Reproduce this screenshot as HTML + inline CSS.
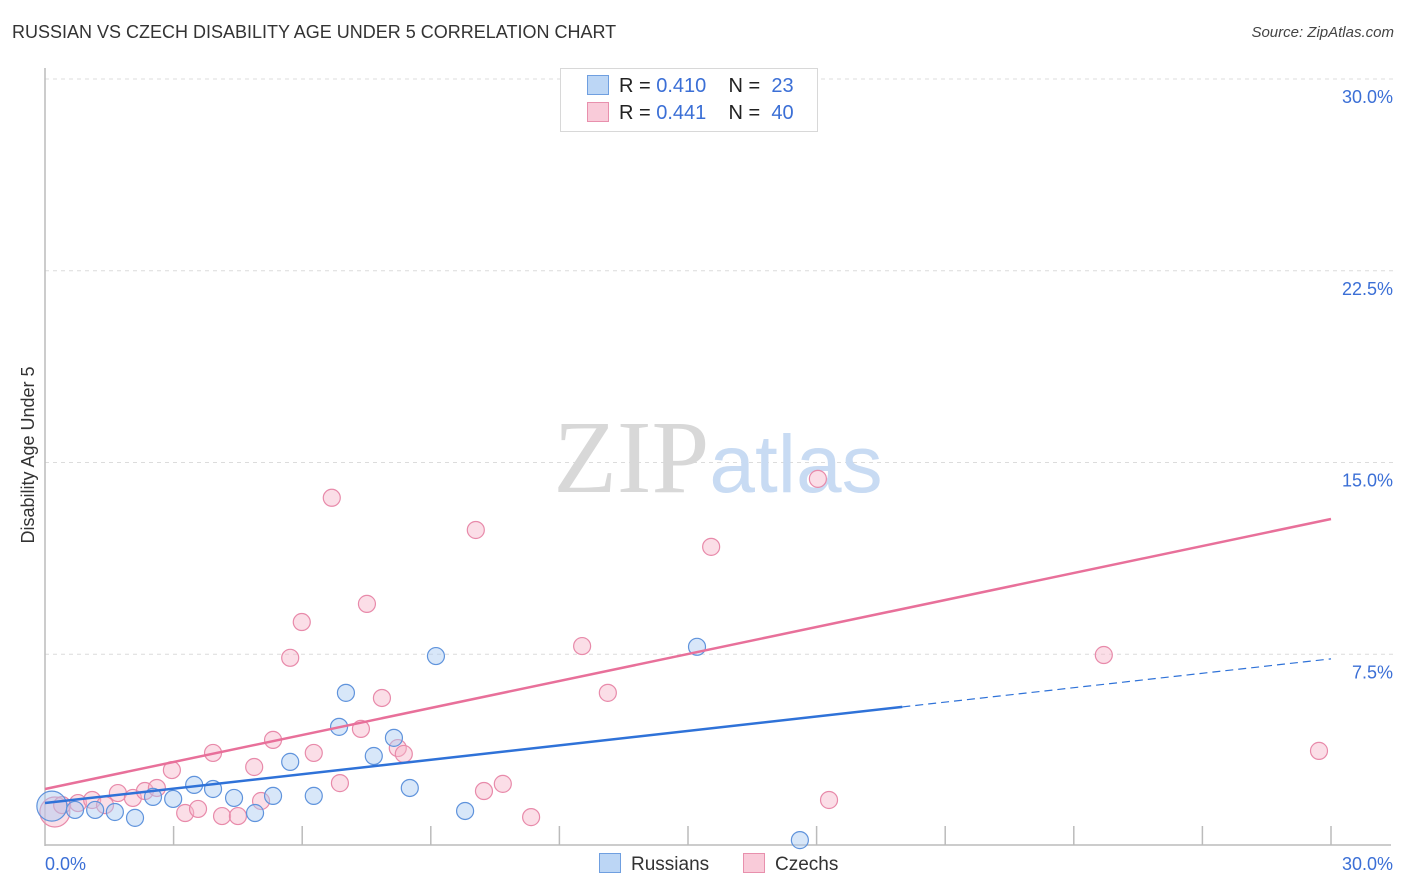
<!DOCTYPE html>
<html><head><meta charset="utf-8">
<style>
body{margin:0;background:#fff;font-family:"Liberation Sans",sans-serif;}
#wrap{position:relative;width:1406px;height:892px;overflow:hidden;}
.t{position:absolute;white-space:nowrap;}
</style></head>
<body>
<div id="wrap">
<div class="t" style="left:12px;top:22px;font-size:18px;color:#333;">RUSSIAN VS CZECH DISABILITY AGE UNDER 5 CORRELATION CHART</div>
<div class="t" style="right:12px;top:24px;font-size:15px;color:#444;font-style:italic;">Source: ZipAtlas.com</div>
<svg id="svg" width="1406" height="892" style="position:absolute;left:0;top:0"></svg>
</div>
<script>
const ruX=[0.16,0.70,1.17,1.63,2.10,2.52,2.99,3.48,3.92,4.41,4.90,5.32,5.72,6.27,6.86,7.02,7.67,8.14,8.51,9.12,9.80,15.21,17.61];
const ruY=[1.56,1.41,1.41,1.33,1.10,1.92,1.84,2.39,2.23,1.88,1.29,1.96,3.29,1.96,4.66,5.99,3.52,4.23,2.27,7.43,1.37,7.79,0.23];
const czX=[0.23,0.40,0.77,1.10,1.40,1.70,2.05,2.33,2.61,2.96,3.27,3.57,3.92,4.13,4.50,4.88,5.04,5.32,5.72,5.99,6.27,6.69,6.88,7.37,7.51,7.86,8.23,8.37,10.05,10.24,10.68,11.34,12.53,13.13,15.54,18.03,18.29,24.70,29.72,16.87];
const czY=[1.33,1.60,1.68,1.80,1.60,2.07,1.88,2.15,2.27,2.97,1.29,1.45,3.64,1.17,1.17,3.09,1.76,4.15,7.36,8.76,3.64,13.62,2.46,4.58,9.47,5.79,3.83,3.60,12.36,2.15,2.43,1.13,7.82,5.99,11.70,14.36,1.80,7.47,3.72,28.56];
const yTicks=[7.5,15,22.5,30];
const yTickLabels=["7.5%","15.0%","22.5%","30.0%"];
const ruTrend=[1.68,0.188]; // intercept, slope
const czTrend=[2.23,0.352];
const ruSolidMax=20;

const NS="http://www.w3.org/2000/svg";
const svg=document.getElementById('svg');
const X0=45,X1=1331,Y0=846,Y30=79;
const sx=v=>X0+(X1-X0)*v/30;
const sy=v=>Y0-(Y0-Y30)*v/30;
function mk(tag,attrs){const e=document.createElementNS(NS,tag);for(const k in attrs)e.setAttribute(k,attrs[k]);svg.appendChild(e);return e;}

yTicks.forEach((t,i)=>{
  const g=mk('line',{x1:X0,x2:1395,y1:sy(t),y2:sy(t),stroke:'#dcdcdc','stroke-dasharray':'4,4'});
  
  
  const tx=mk('text',{x:1393,y:sy(t)+24,'text-anchor':'end','font-size':18,fill:'#3b6fd6','font-family':'Liberation Sans, sans-serif'});
  tx.textContent=yTickLabels[i];
  
  
});
let a=mk('line',{x1:X0,x2:X0,y1:68,y2:Y0,stroke:'#bbb','stroke-width':1.5});


a=mk('line',{x1:X0,x2:X1+60,y1:845,y2:845,stroke:'#bbb','stroke-width':1.5});


for(let i=1;i<=10;i++){
  const t=mk('line',{x1:sx(i*3),x2:sx(i*3),y1:826,y2:845,stroke:'#bbb','stroke-width':1.5});
  
  
}
[[0,'0.0%','start',45],[30,'30.0%','end',1393]].forEach(d=>{
  const tx=mk('text',{x:d[3],y:870,'text-anchor':d[2],'font-size':18,fill:'#3b6fd6','font-family':'Liberation Sans, sans-serif'});
  tx.textContent=d[1];
  
  
});
const yt=mk('text',{x:0,y:0,transform:'translate(34,455) rotate(-90)','text-anchor':'middle','font-size':18,fill:'#333','font-family':'Liberation Sans, sans-serif'});
yt.textContent='Disability Age Under 5';


const wm=mk('text',{x:718,y:492,'text-anchor':'middle','font-size':104,'font-family':'Liberation Serif, serif'});
wm.innerHTML='<tspan fill="#d8d8d8">ZIP</tspan><tspan fill="#c8dbf3" font-family="Liberation Sans, sans-serif" font-size="82">atlas</tspan>';



function dots(xs,ys,fill,stroke,name){
  xs.forEach((x,i)=>{
    const r=(i===0)?15:8.5;
    const c=mk('circle',{cx:sx(x),cy:sy(ys[i]),r:r,fill:fill,'fill-opacity':0.45,stroke:stroke,'stroke-width':1.2});
    
    
  });
}
dots(czX,czY,'#f6b6ca','#e88aaa','czech-point');
dots(ruX,ruY,'#a9c9f1','#5f93dc','russian-point');

let l=mk('line',{x1:sx(0),y1:sy(czTrend[0]),x2:sx(30),y2:sy(czTrend[0]+30*czTrend[1]),stroke:'#e8709a','stroke-width':2.5});


l=mk('line',{x1:sx(0),y1:sy(ruTrend[0]),x2:sx(ruSolidMax),y2:sy(ruTrend[0]+ruSolidMax*ruTrend[1]),stroke:'#2f72d8','stroke-width':2.5});


l=mk('line',{x1:sx(ruSolidMax),y1:sy(ruTrend[0]+ruSolidMax*ruTrend[1]),x2:sx(30),y2:sy(ruTrend[0]+30*ruTrend[1]),stroke:'#2f72d8','stroke-width':1.2,'stroke-dasharray':'8,5'});


</script>
<div class="t" style="left:560px;top:68px;width:256px;height:62px;border:1px solid #d8d8d8;background:#fff;font-size:20px;color:#222;">
  <div style="position:absolute;left:26px;top:6px;"><span style="display:inline-block;width:20px;height:18px;background:#bcd6f5;border:1px solid #6f9fe0;vertical-align:-3px;margin-right:10px;"></span>R = <span style="color:#3b6fd6">0.410</span>&nbsp;&nbsp;&nbsp; N = &nbsp;<span style="color:#3b6fd6">23</span></div>
  <div style="position:absolute;left:26px;top:33px;"><span style="display:inline-block;width:20px;height:18px;background:#f9cbd9;border:1px solid #e890ad;vertical-align:-3px;margin-right:10px;"></span>R = <span style="color:#3b6fd6">0.441</span>&nbsp;&nbsp;&nbsp; N = &nbsp;<span style="color:#3b6fd6">40</span></div>
</div>
<div class="t" style="left:599px;top:853px;font-size:19px;color:#333;"><span style="display:inline-block;width:20px;height:18px;background:#bcd6f5;border:1px solid #6f9fe0;vertical-align:-3px;margin-right:10px;"></span>Russians</div>
<div class="t" style="left:743px;top:853px;font-size:19px;color:#333;"><span style="display:inline-block;width:20px;height:18px;background:#f9cbd9;border:1px solid #e890ad;vertical-align:-3px;margin-right:10px;"></span>Czechs</div>
</body></html>
